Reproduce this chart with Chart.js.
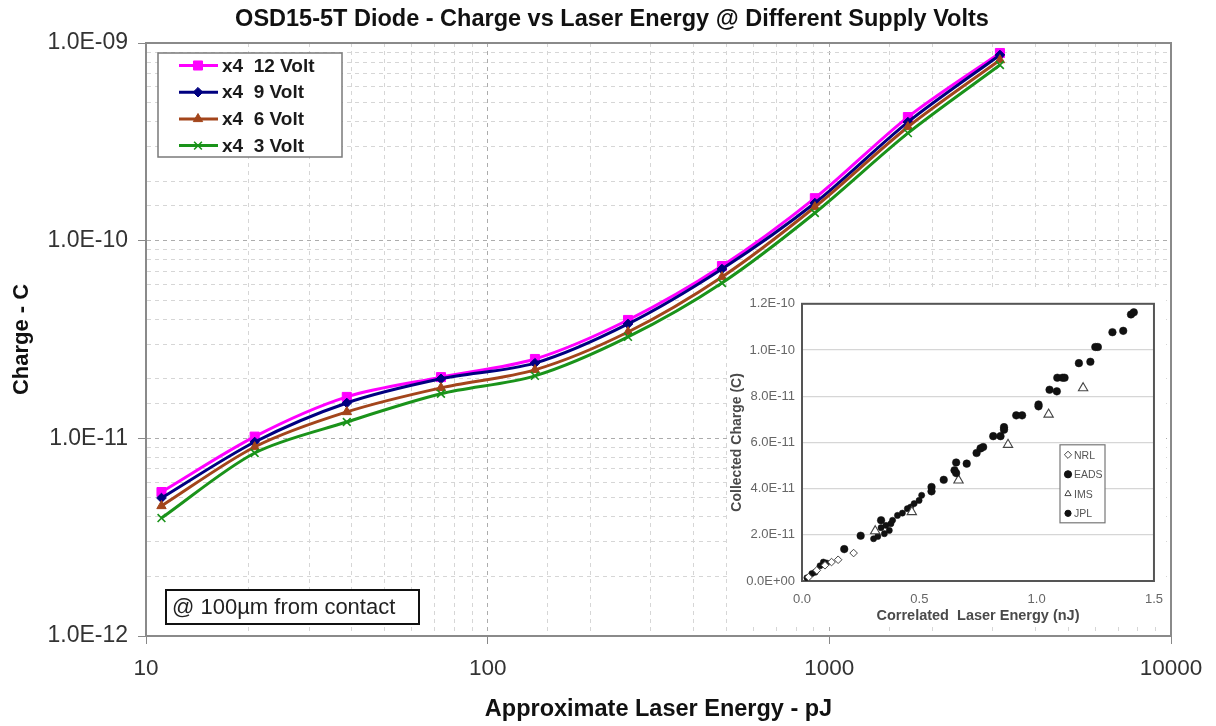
<!DOCTYPE html>
<html>
<head>
<meta charset="utf-8">
<script src="https://cdn.jsdelivr.net/npm/chart.js@4.4.1/dist/chart.umd.min.js"></script>
<style>
  body { margin: 0; background: #fff; }
  #wrap { position: relative; width: 1216px; height: 726px; }
  #mainChart { position: absolute; left: 0; top: 0; }
  #insetBox { position: absolute; left: 728px; top: 289px; width: 438px; height: 336px; background: #fff; }
</style>
</head>
<body>
<div id="wrap">
  <canvas id="mainChart" width="1216" height="726"></canvas>
  <div id="insetBox"><canvas id="insetChart" width="438" height="336"></canvas></div>
</div>
<script>
// laser energy (pJ) and collected charge (C) per supply voltage
const energy = [11.1, 20.8, 38.7, 73.0, 137.5, 257.5, 485, 907, 1698, 3157];
const volt12 = [5.35e-12, 1.02e-11, 1.62e-11, 2.04e-11, 2.52e-11, 3.97e-11, 7.44e-11, 1.64e-10, 4.22e-10, 8.90e-10];
const volt9  = [4.99e-12, 9.58e-12, 1.51e-11, 2.00e-11, 2.40e-11, 3.79e-11, 7.19e-11, 1.55e-10, 3.98e-10, 8.70e-10];
const volt6  = [4.55e-12, 9.04e-12, 1.36e-11, 1.80e-11, 2.22e-11, 3.45e-11, 6.55e-11, 1.48e-10, 3.76e-10, 8.20e-10];
const volt3  = [3.95e-12, 8.43e-12, 1.21e-11, 1.68e-11, 2.07e-11, 3.26e-11, 6.11e-11, 1.38e-10, 3.50e-10, 7.74e-10];
const seriesNames = ['x4  12 Volt', 'x4  9 Volt', 'x4  6 Volt', 'x4  3 Volt'];

// inset: correlated laser energy (nJ) vs collected charge (1e-11 C)
const nrlEnergy  = [0.028, 0.063, 0.098, 0.126, 0.154, 0.220];
const nrlCharge  = [0.17, 0.46, 0.68, 0.82, 0.92, 1.21];
const imsEnergy  = [0.312, 0.468, 0.667, 0.878, 1.051, 1.198];
const imsCharge  = [2.16, 2.99, 4.36, 5.90, 7.21, 8.35];
const eadsEnergy = [0.180, 0.250, 0.337, 0.552, 0.552, 0.604, 0.650, 0.657, 0.657, 0.702, 0.744, 0.761, 0.772, 0.815, 0.846, 0.861, 0.861, 0.913, 0.938, 1.008, 1.008, 1.055, 1.086, 1.088, 1.110, 1.119, 1.180, 1.229, 1.250, 1.261, 1.323, 1.369, 1.402, 1.414];
const eadsCharge = [1.38, 1.96, 2.63, 4.07, 3.88, 4.38, 4.79, 4.67, 5.13, 5.08, 5.54, 5.74, 5.80, 6.27, 6.27, 6.66, 6.55, 7.17, 7.17, 7.64, 7.56, 8.28, 8.21, 8.80, 8.80, 8.80, 9.43, 9.49, 10.13, 10.13, 10.77, 10.83, 11.54, 11.63];
const jplEnergy  = [0.021, 0.042, 0.056, 0.077, 0.091, 0.105, 0.305, 0.323, 0.351, 0.372, 0.337, 0.358, 0.379, 0.386, 0.407, 0.428, 0.449, 0.463, 0.478, 0.499, 0.510];
const jplCharge  = [0.14, 0.32, 0.38, 0.66, 0.82, 0.78, 1.83, 1.93, 2.05, 2.19, 2.31, 2.41, 2.48, 2.63, 2.84, 2.94, 3.13, 3.20, 3.35, 3.49, 3.71];
const insetNames = ['NRL', 'EADS', 'IMS', 'JPL'];

Chart.defaults.font.family = '"Liberation Sans", Arial, Helvetica, sans-serif';
Chart.defaults.color = '#222';

const pairs = (xs, ys, k = 1) => xs.map((x, i) => ({ x: x, y: ys[i] * k }));
const isDecade = v => { const e = Math.log10(v); return Math.abs(e - Math.round(e)) < 1e-6; };
const expLabel = v => v.toExponential(1).replace(/e([+-])(\d)$/, 'e$10$2').toUpperCase();

function drawMarker(ctx, style, x, y) {
  if (Chart.helpers && Chart.helpers.drawPoint) {
    Chart.helpers.drawPoint(ctx, style, x, y);
  } else {
    ctx.beginPath(); ctx.arc(x, y, style.radius, 0, Math.PI * 2); ctx.fill(); ctx.stroke();
  }
}

// ---------- main chart ----------
const lineColors = ['#ff00ff', '#000080', '#a3451b', '#1a931a'];
const markers = [
  { pointStyle: 'rect', radius: 6.4, borderWidth: 1 },
  { pointStyle: 'rectRot', radius: 4.8, borderWidth: 1 },
  { pointStyle: 'triangle', radius: 5.4, borderWidth: 1 },
  { pointStyle: 'crossRot', radius: 5.5, borderWidth: 1.6 }
];
const voltSeries = [volt12, volt9, volt6, volt3];

const mainDatasets = voltSeries.map((vals, i) => ({
  label: seriesNames[i],
  data: pairs(energy, vals),
  borderColor: lineColors[i],
  backgroundColor: lineColors[i],
  borderWidth: 3,
  tension: 0.3,
  pointStyle: markers[i].pointStyle,
  pointRadius: markers[i].radius,
  pointBorderWidth: markers[i].borderWidth,
  order: 3 - i
}));

const framePlugin = {
  id: 'plotFrame',
  beforeDatasetsDraw(chart, args, opts) {
    const { ctx, chartArea: a } = chart;
    ctx.save();
    ctx.strokeStyle = opts.color || '#888';
    ctx.lineWidth = opts.width || 2;
    ctx.strokeRect(a.left, a.top, a.right - a.left, a.bottom - a.top);
    ctx.restore();
  }
};

const seriesKey = {
  id: 'seriesKey',
  beforeDatasetsDraw(chart) {
    const { ctx, chartArea: a } = chart;
    const x0 = a.left + 12, y0 = a.top + 10, w = 184, h = 104;
    ctx.save();
    ctx.fillStyle = '#fff';
    ctx.fillRect(x0, y0, w, h);
    ctx.strokeStyle = '#7a7a7a';
    ctx.lineWidth = 1.5;
    ctx.strokeRect(x0, y0, w, h);
    ctx.font = 'bold 19px "Liberation Sans", Arial, sans-serif';
    ctx.textBaseline = 'middle';
    chart.data.datasets.forEach((ds, i) => {
      const y = y0 + 12.5 + i * 26.7;
      ctx.strokeStyle = ds.borderColor;
      ctx.fillStyle = ds.backgroundColor;
      ctx.lineWidth = 3;
      ctx.beginPath();
      ctx.moveTo(x0 + 21, y);
      ctx.lineTo(x0 + 60, y);
      ctx.stroke();
      ctx.lineWidth = ds.pointBorderWidth;
      drawMarker(ctx, { pointStyle: ds.pointStyle, radius: ds.pointRadius, rotation: 0, borderWidth: ds.pointBorderWidth }, x0 + 40, y);
      ctx.fillStyle = '#1a1a1a';
      ctx.fillText(ds.label, x0 + 64, y + 1);
    });
    ctx.restore();
  }
};

const noteBox = {
  id: 'noteBox',
  afterDraw(chart, args, opts) {
    const { ctx, chartArea: a } = chart;
    const x0 = a.left + 20, y0 = a.bottom - 46, w = 253, h = 34;
    ctx.save();
    ctx.fillStyle = '#fff';
    ctx.fillRect(x0, y0, w, h);
    ctx.strokeStyle = '#111';
    ctx.lineWidth = 2;
    ctx.strokeRect(x0, y0, w, h);
    ctx.fillStyle = '#222';
    ctx.font = '22px "Liberation Sans", Arial, sans-serif';
    ctx.textBaseline = 'middle';
    ctx.fillText(opts.text, x0 + 6, y0 + h / 2 + 1);
    ctx.restore();
  }
};

const gridColor = c => (c.tick && isDecade(c.tick.value)) ? '#acacac' : '#d6d6d6';
const tickColor = c => (c.tick && isDecade(c.tick.value)) ? '#888' : 'rgba(0,0,0,0)';

new Chart(document.getElementById('mainChart'), {
  type: 'line',
  data: { datasets: mainDatasets },
  options: {
    responsive: false,
    animation: false,
    // the empty right-hand axis reserves the margin, so the title box runs past the canvas edge
    layout: { padding: { left: 0, right: -8, top: 0, bottom: 0 } },
    plugins: {
      legend: { display: false },
      tooltip: { enabled: false },
      title: {
        display: true,
        text: 'OSD15-5T Diode - Charge vs Laser Energy @ Different Supply Volts',
        font: { size: 23.5, weight: 'bold' },
        color: '#111',
        padding: { top: 5, bottom: 9.8 }
      },
      plotFrame: { color: '#8a8a8a', width: 2 },
      noteBox: { text: '@ 100µm from contact' }
    },
    scales: {
      x: {
        type: 'logarithmic',
        min: 10,
        max: 10000,
        afterFit: s => { s.height = 90; },
        ticks: {
          autoSkip: false,
          maxRotation: 0,
          padding: 11,
          font: { size: 22.5 },
          color: '#333',
          callback: v => isDecade(v) ? String(Math.round(v)) : ''
        },
        grid: { color: gridColor, tickColor: tickColor, tickLength: 8, lineWidth: 1 },
        border: { color: '#888', width: 2, dash: [4, 4] },
        title: {
          display: true,
          text: 'Approximate Laser Energy - pJ',
          font: { size: 23.5, weight: 'bold' },
          color: '#111',
          padding: { top: 0, bottom: 2 }
        }
      },
      y: {
        type: 'logarithmic',
        min: 1e-12,
        max: 1e-9,
        afterFit: s => { s.width = 146; },
        ticks: {
          autoSkip: false,
          padding: 10,
          font: { size: 23 },
          color: '#333',
          callback: v => isDecade(v) ? expLabel(v) : ''
        },
        grid: { color: gridColor, tickColor: tickColor, tickLength: 8, lineWidth: 1 },
        border: { color: '#888', width: 2, dash: [4, 4] },
        title: {
          display: true,
          text: 'Charge - C',
          font: { size: 22, weight: 'bold' },
          color: '#111',
          padding: { top: 9, bottom: 0 }
        }
      },
      margin: {
        position: 'right',
        afterFit: s => { s.width = 53; },
        ticks: { display: false },
        grid: { display: false, drawTicks: false },
        border: { display: false }
      }
    }
  },
  plugins: [framePlugin, seriesKey, noteBox]
});

// ---------- inset chart ----------
const insetDatasets = [
  { label: 'NRL', data: pairs(nrlEnergy, nrlCharge, 1e-11), pointStyle: 'rectRot', pointRadius: 3.8, pointBorderWidth: 1, borderColor: '#444', backgroundColor: '#fff' },
  { label: 'EADS', data: pairs(eadsEnergy, eadsCharge, 1e-11), pointStyle: 'circle', pointRadius: 3.8, pointBorderWidth: 0.5, borderColor: '#111', backgroundColor: '#111' },
  { label: 'IMS', data: pairs(imsEnergy, imsCharge, 1e-11), pointStyle: 'triangle', pointRadius: 5.4, pointBorderWidth: 1.1, borderColor: '#444', backgroundColor: '#fff' },
  { label: 'JPL', data: pairs(jplEnergy, jplCharge, 1e-11), pointStyle: 'circle', pointRadius: 3.1, pointBorderWidth: 0.5, borderColor: '#111', backgroundColor: '#111' }
];

const insetKey = {
  id: 'insetKey',
  afterDraw(chart) {
    const { ctx, chartArea: a } = chart;
    const x0 = a.left + 258, y0 = a.top + 141, w = 45, h = 78;
    ctx.save();
    ctx.fillStyle = '#fff';
    ctx.fillRect(x0, y0, w, h);
    ctx.strokeStyle = '#777';
    ctx.lineWidth = 1.2;
    ctx.strokeRect(x0, y0, w, h);
    ctx.font = '10.5px "Liberation Sans", Arial, sans-serif';
    ctx.textBaseline = 'middle';
    chart.data.datasets.forEach((ds, i) => {
      const y = y0 + 10 + i * 19.5;
      ctx.strokeStyle = ds.borderColor;
      ctx.fillStyle = ds.backgroundColor;
      ctx.lineWidth = 1;
      drawMarker(ctx, { pointStyle: ds.pointStyle, radius: Math.min(ds.pointRadius, 3.6), rotation: 0, borderWidth: 1 }, x0 + 8, y);
      ctx.fillStyle = '#555';
      ctx.fillText(insetNames[i], x0 + 14, y + 1);
    });
    ctx.restore();
  }
};

new Chart(document.getElementById('insetChart'), {
  type: 'scatter',
  data: { datasets: insetDatasets },
  options: {
    responsive: false,
    animation: false,
    layout: { padding: { top: 14, right: 0, left: 0, bottom: 0 } },
    plugins: {
      legend: { display: false },
      tooltip: { enabled: false },
      plotFrame: { color: '#555', width: 2 }
    },
    scales: {
      x: {
        type: 'linear',
        min: 0,
        max: 1.5,
        afterFit: s => { s.height = 44; },
        ticks: { stepSize: 0.5, padding: 3, font: { size: 13 }, color: '#666', callback: v => v.toFixed(1) },
        grid: { display: false },
        border: { display: false },
        title: {
          display: true,
          text: 'Correlated  Laser Energy (nJ)',
          font: { size: 14.5, weight: 'bold' },
          color: '#4a4a4a',
          padding: { top: 0, bottom: 0 }
        }
      },
      y: {
        min: 0,
        max: 1.2e-10,
        afterFit: s => { s.width = 74; },
        ticks: { stepSize: 2e-11, padding: 7, font: { size: 13 }, color: '#666', callback: v => expLabel(v) },
        grid: { color: '#d6d6d6', drawTicks: false, lineWidth: 1.2 },
        border: { display: false },
        title: {
          display: true,
          text: 'Collected Charge (C)',
          font: { size: 14, weight: 'bold' },
          color: '#4a4a4a',
          padding: { top: 1, bottom: 0 }
        }
      }
    }
  },
  plugins: [framePlugin, insetKey]
});
</script>
</body>
</html>
